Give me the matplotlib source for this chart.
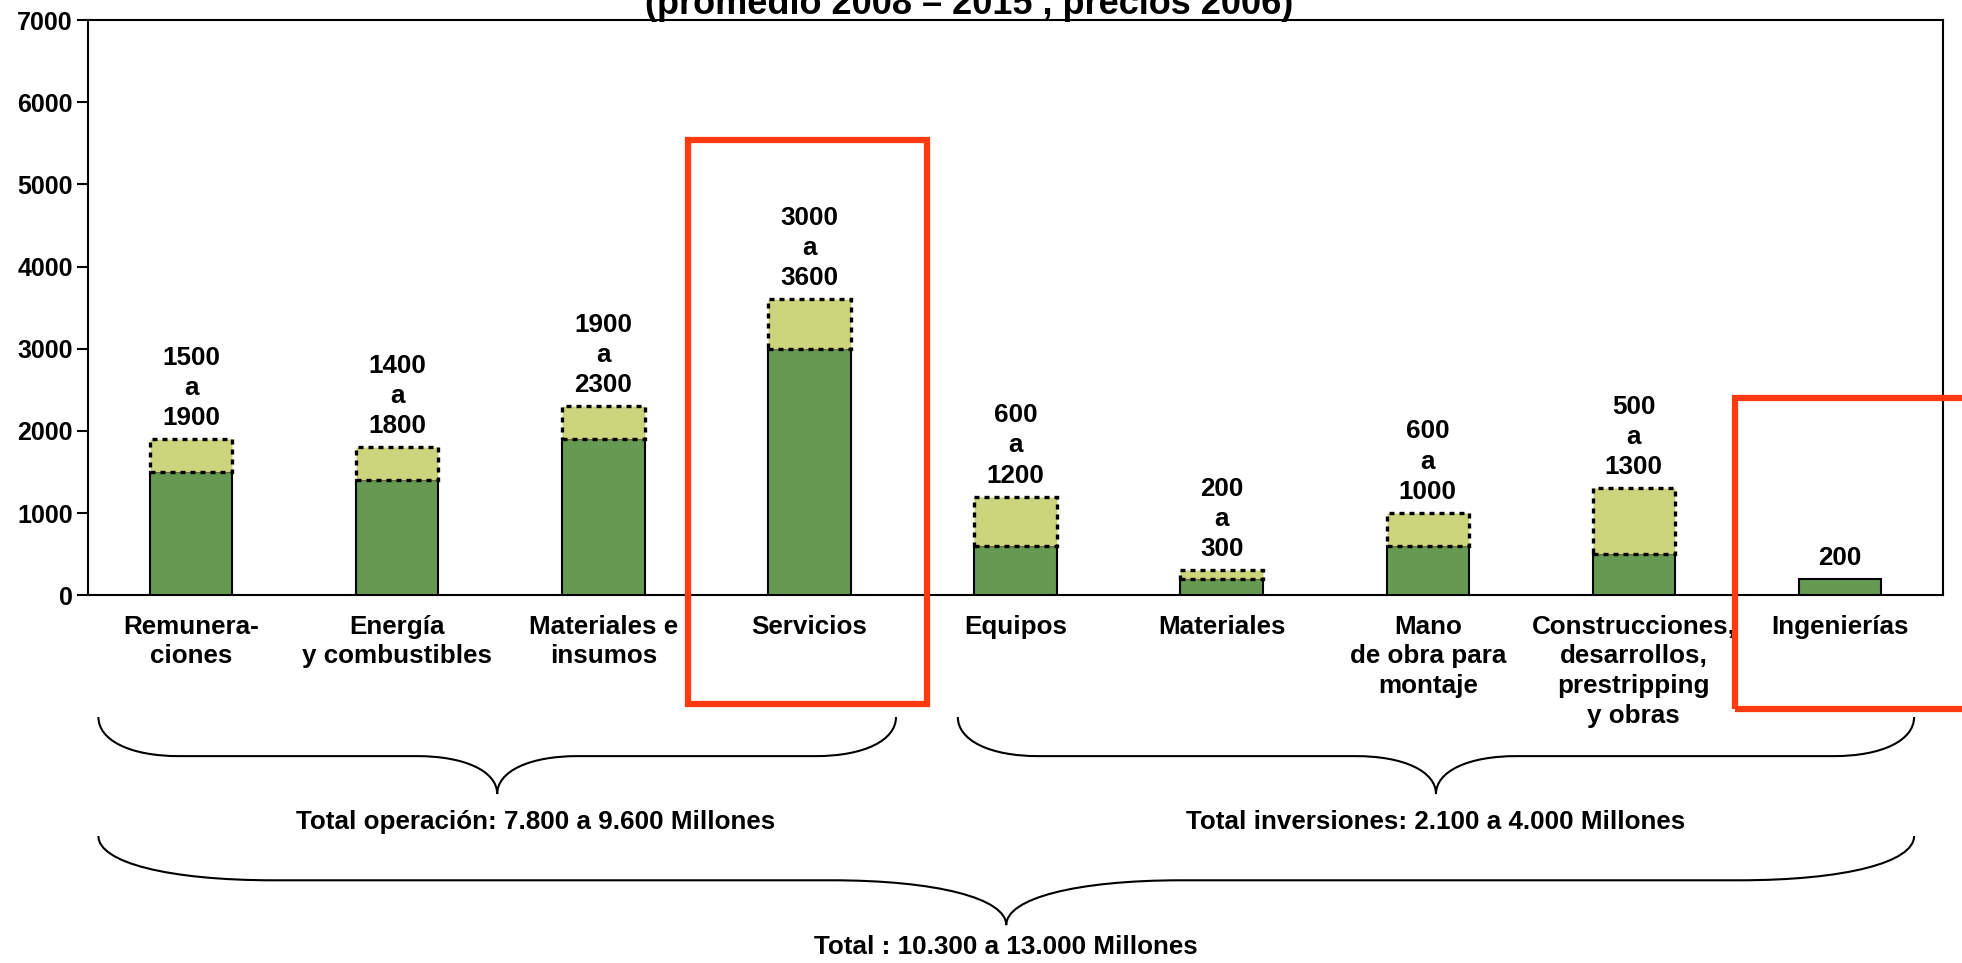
import matplotlib.pyplot as plt
import numpy as np
from matplotlib.patches import PathPatch, Rectangle
from matplotlib.path import Path
from matplotlib.transforms import blended_transform_factory

plt.rcParams["font.family"] = ["Liberation Sans", "DejaVu Sans"]
plt.rcParams["font.weight"] = "bold"

categories = [
    "Remunera-\nciones",
    "Energía\ny combustibles",
    "Materiales e\ninsumos",
    "Servicios",
    "Equipos",
    "Materiales",
    "Mano\nde obra para\nmontaje",
    "Construcciones,\ndesarrollos,\nprestripping\ny obras",
    "Ingenierías",
]
low = [1500, 1400, 1900, 3000, 600, 200, 600, 500, 200]
high = [1900, 1800, 2300, 3600, 1200, 300, 1000, 1300, 200]
y_ticks = [0, 1000, 2000, 3000, 4000, 5000, 6000, 7000]

title = "(promedio 2008 – 2015 , precios 2006)"
total_op = "Total operación: 7.800 a 9.600 Millones"
total_inv = "Total inversiones: 2.100 a 4.000 Millones"
total_all = "Total : 10.300 a 13.000 Millones"

DARK = "#669a52"
LIGHT = "#ccd47c"
RED = "#ff3a10"
FS = 18.7

fig = plt.figure(figsize=(19.62, 9.63), dpi=100)
ax = fig.add_axes([0.0449, 0.382, 0.9454, 0.597])

x = np.arange(len(categories))
low_arr = np.array(low)
high_arr = np.array(high)
ax.bar(x, low_arr, width=0.4, color=DARK, edgecolor="black", linewidth=1.5, zorder=3)
extra = high_arr - low_arr
has_extra = extra > 0
ax.bar(x[has_extra], extra[has_extra], bottom=low_arr[has_extra], width=0.4,
       color=LIGHT, edgecolor="black", linewidth=2.4, linestyle=(0, (1.5, 1.5)), zorder=3)

for xi, lo, hi in zip(x, low, high):
    label = f"{lo}" if lo == hi else f"{lo}\na\n{hi}"
    ax.text(xi, hi + 110, label, ha="center", va="bottom", fontsize=FS,
            fontweight="bold", linespacing=1.33)

ax.set_xlim(-0.5, len(categories) - 0.5)
ax.set_ylim(0, 7000)
ax.set_yticks(y_ticks)
ax.set_yticklabels([str(t) for t in y_ticks], fontsize=18, fontweight="bold")
ax.tick_params(axis="y", direction="out", length=8, width=1.5, pad=3)
ax.set_xticks(x)
ax.set_xticklabels(categories, fontsize=FS, fontweight="bold", linespacing=1.3)
ax.tick_params(axis="x", length=0, pad=14)
for s in ax.spines.values():
    s.set_linewidth(1.5)

trans = blended_transform_factory(ax.transData, ax.transAxes)


# 중괄호 모양: 양 끝 곡선 -> 수평선 -> 가운데 뾰족
def brace(x0, x1, y_top, y_mid, y_tip, r):
    xc = (x0 + x1) / 2
    verts = [
        (x0, y_top),
        (x0, y_top + (y_mid - y_top) * 0.6), (x0 + r * 0.4, y_mid), (x0 + r, y_mid),
        (xc - r, y_mid),
        (xc - r * 0.4, y_mid), (xc, y_mid + (y_tip - y_mid) * 0.4), (xc, y_tip),
        (xc, y_mid + (y_tip - y_mid) * 0.4), (xc + r * 0.4, y_mid), (xc + r, y_mid),
        (x1 - r, y_mid),
        (x1 - r * 0.4, y_mid), (x1, y_top + (y_mid - y_top) * 0.6), (x1, y_top),
    ]
    codes = [Path.MOVETO,
             Path.CURVE4, Path.CURVE4, Path.CURVE4,
             Path.LINETO,
             Path.CURVE4, Path.CURVE4, Path.CURVE4,
             Path.CURVE4, Path.CURVE4, Path.CURVE4,
             Path.LINETO,
             Path.CURVE4, Path.CURVE4, Path.CURVE4]
    patch = PathPatch(Path(verts, codes), facecolor="none", edgecolor="black",
                      linewidth=1.5, transform=trans, clip_on=False)
    ax.add_patch(patch)


brace(-0.45, 3.42, -0.212, -0.280, -0.346, 0.39)
brace(3.72, 8.36, -0.212, -0.280, -0.346, 0.39)
brace(-0.45, 8.36, -0.419, -0.496, -0.574, 0.85)

ax.text(1.67, -0.395, total_op, transform=trans, ha="center", va="center",
        fontsize=FS, fontweight="bold", clip_on=False)
ax.text(6.04, -0.395, total_inv, transform=trans, ha="center", va="center",
        fontsize=FS, fontweight="bold", clip_on=False)
ax.text(3.955, -0.612, total_all, transform=trans, ha="center", va="center",
        fontsize=FS, fontweight="bold", clip_on=False)

# 강조 박스
for x0, x1, y0, y1 in [(2.41, 3.57, -0.19, 0.791), (7.49, 9.8, -0.198, 0.343)]:
    ax.add_patch(Rectangle((x0, y0), x1 - x0, y1 - y0, transform=trans, fill=False,
                           edgecolor=RED, linewidth=4.5, clip_on=False, zorder=5))

fig.text(0.494, 0.9855, title, ha="center", va="baseline", fontsize=26, fontweight="bold")

fig.savefig("out.png", dpi=100)
